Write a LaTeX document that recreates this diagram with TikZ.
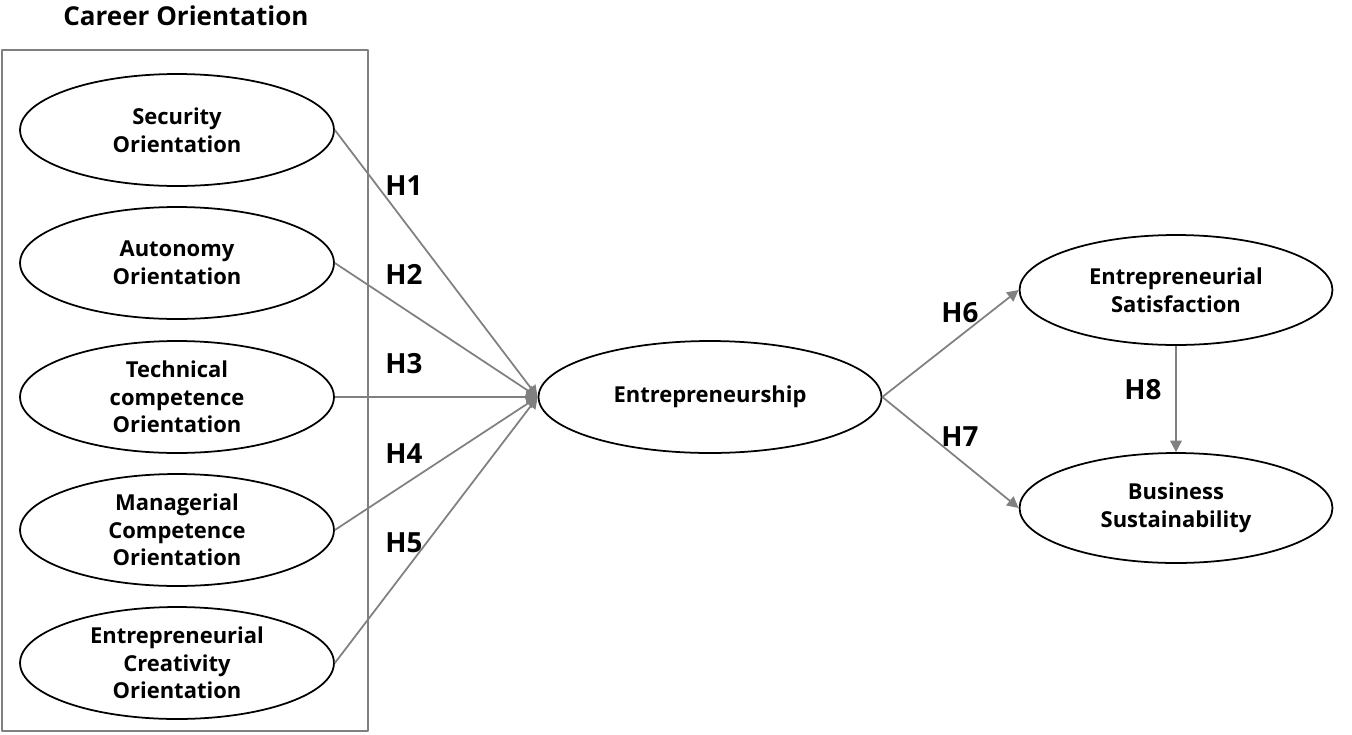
\documentclass[tikz,border=0pt]{standalone}
\usepackage{fontspec}
\setmainfont{Open Sans}
\usetikzlibrary{arrows.meta,shapes.geometric}
\definecolor{linkgray}{RGB}{128,128,128}

\begin{document}
\begin{tikzpicture}[x=0.02cm,y=-0.02cm,line join=round,
  construct/.style={ellipse,draw=black,line width=1pt,inner sep=0pt,align=center,
    font=\fontsize{12.5}{15.7}\selectfont\bfseries},
  hyp/.style={draw=linkgray,line width=1pt,-{Triangle[length=6.5pt,width=6.5pt]}},
  hlabel/.style={font=\fontsize{15.8}{18}\selectfont\bfseries}]
\useasboundingbox (0,0) rectangle (1352,734);
% career orientation block
\node[font=\fontsize{14.8}{17}\selectfont\bfseries] (title) at (186,16) {Career Orientation};
\draw[linkgray,line width=1pt] (2,50) rectangle (368,731);
\node[construct,minimum width=6.28cm,minimum height=2.24cm] (sec) at (177,130) {Security\\Orientation};
\node[construct,minimum width=6.28cm,minimum height=2.24cm] (aut) at (177,263) {Autonomy\\Orientation};
\node[construct,minimum width=6.28cm,minimum height=2.24cm] (tec) at (177,397) {Technical\\competence\\Orientation};
\node[construct,minimum width=6.28cm,minimum height=2.24cm] (man) at (177,530) {Managerial\\Competence\\Orientation};
\node[construct,minimum width=6.28cm,minimum height=2.24cm] (cre) at (177,663) {Entrepreneurial\\Creativity\\Orientation};
% outcomes
\node[construct,minimum width=6.86cm,minimum height=2.24cm] (ent) at (710,397) {Entrepreneurship};
\node[construct,minimum width=6.26cm,minimum height=2.2cm] (sat) at (1176,290) {Entrepreneurial\\Satisfaction};
\node[construct,minimum width=6.26cm,minimum height=2.2cm] (bus) at (1176,508) {Business\\Sustainability};
% hypotheses
\draw[hyp] (sec.east) -- (ent.west);
\draw[hyp] (aut.east) -- (ent.west);
\draw[hyp] (tec.east) -- (ent.west);
\draw[hyp] (man.east) -- (ent.west);
\draw[hyp] (cre.east) -- (ent.west);
\draw[hyp] (ent.east) -- (sat.west);
\draw[hyp] (ent.east) -- (bus.west);
\draw[hyp] (sat.south) -- (bus.north);
\node[hlabel] (h1) at (404,186) {H1};
\node[hlabel] (h2) at (404,274) {H2};
\node[hlabel] (h3) at (404,364) {H3};
\node[hlabel] (h4) at (404,454) {H4};
\node[hlabel] (h5) at (404,543) {H5};
\node[hlabel] (h6) at (960,313) {H6};
\node[hlabel] (h7) at (960,437) {H7};
\node[hlabel] (h8) at (1143,390) {H8};
\end{tikzpicture}
\end{document}
